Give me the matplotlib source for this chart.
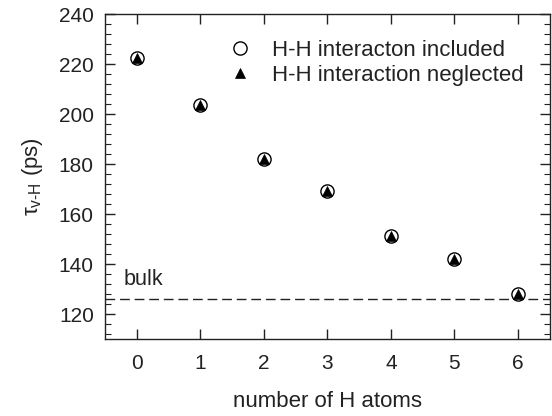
import numpy as np
import matplotlib.pyplot as plt
from matplotlib.ticker import MultipleLocator

plt.rcParams['font.family'] = ['Liberation Sans', 'DejaVu Sans']
plt.rcParams['mathtext.fontset'] = 'custom'
plt.rcParams['mathtext.rm'] = 'Liberation Sans'
plt.rcParams['mathtext.it'] = 'Liberation Sans:italic'

# lifetime vs number of H atoms near the vacancy
n_h = [0, 1, 2, 3, 4, 5, 6]
tau_included = [222.6, 203.8, 182.1, 169.2, 151.4, 142.2, 128.2]
tau_neglected = [222.6, 203.8, 182.1, 169.2, 151.4, 142.2, 128.2]
tau_bulk = 126.0

ink = '#222222'

fig = plt.figure(figsize=(5.52, 4.16), dpi=100)
ax = fig.add_axes([0.190, 0.185, 0.806, 0.781])

ax.plot(n_h, tau_included, 'o', ms=9.5, mfc='white', mec='black', mew=1.0,
        label='H-H interacton included', zorder=3)
ax.plot(n_h, tau_neglected, '^', ms=7.5, mfc='black', mec='black', mew=0.5,
        label='H-H interaction neglected', zorder=4)
ax.axhline(tau_bulk, color=ink, lw=1.0, dashes=(7, 3.5), zorder=2)
ax.text(-0.2, 134, 'bulk', fontsize=15.5, va='center', ha='left', color=ink)

ax.set_xlim(-0.5, 6.5)
ax.set_ylim(110, 240)
ax.xaxis.set_major_locator(MultipleLocator(1))
ax.yaxis.set_major_locator(MultipleLocator(20))
ax.yaxis.set_minor_locator(MultipleLocator(4))

ax.tick_params(which='both', direction='in', top=True, right=True,
               colors=ink, labelsize=15, labelcolor=ink)
ax.tick_params(which='major', length=7, width=1.0)
ax.tick_params(which='minor', length=4, width=0.8)
ax.tick_params(axis='x', pad=11)
ax.tick_params(axis='y', pad=8)
for sp in ax.spines.values():
    sp.set_color(ink)
    sp.set_linewidth(1.0)

ax.set_xlabel('number of H atoms', fontsize=16, color=ink, labelpad=13)
ax.set_ylabel(r'τ$_{\mathregular{v\text{-}H}}$ (ps)', fontsize=16, color=ink,
              labelpad=10)

leg = ax.legend(loc='upper left', bbox_to_anchor=(0.218, 0.982), frameon=False,
                fontsize=16, handlelength=1.6, handletextpad=0.65,
                labelspacing=0.18, borderpad=0.4)
for t in leg.get_texts():
    t.set_color(ink)

fig.savefig('out.png', dpi=100)
